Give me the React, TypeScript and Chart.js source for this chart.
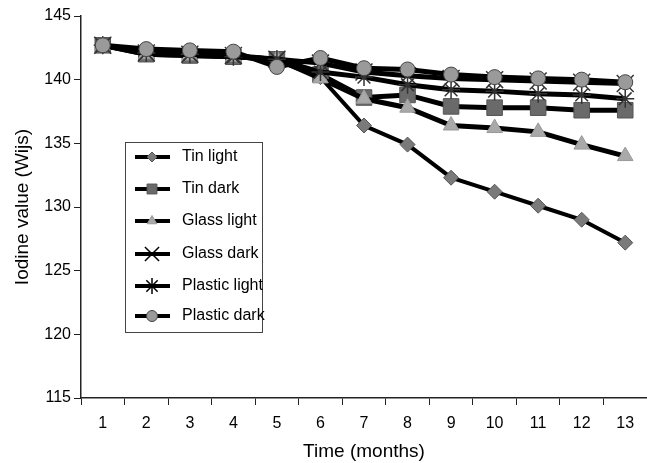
import React, { useEffect, useRef } from "react";
import { Chart, registerables } from "chart.js";
import { drawPoint } from "chart.js/helpers";

Chart.register(...registerables);

const months = ["1", "2", "3", "4", "5", "6", "7", "8", "9", "10", "11", "12", "13"];
const tinLight = [142.7, 142.2, 142.0, 141.8, 141.5, 140.2, 136.4, 134.9, 132.3, 131.2, 130.1, 129.0, 127.2];
const tinDark = [142.7, 142.0, 141.9, 141.8, 141.6, 140.4, 138.6, 138.8, 137.9, 137.8, 137.8, 137.6, 137.6];
const glassLight = [142.7, 142.0, 141.9, 141.8, 141.6, 140.1, 138.5, 137.8, 136.4, 136.2, 135.9, 134.9, 134.0];
const glassDark = [142.7, 142.1, 142.0, 141.9, 141.6, 141.3, 140.6, 140.3, 140.1, 140.0, 139.9, 139.8, 139.7];
const plasticLight = [142.7, 142.1, 142.0, 141.8, 141.6, 140.6, 140.2, 139.6, 139.2, 139.1, 138.9, 138.8, 138.5];
const plasticDark = [142.7, 142.4, 142.3, 142.2, 141.0, 141.7, 140.9, 140.8, 140.4, 140.2, 140.1, 140.0, 139.8];
const seriesNames = ["Tin light", "Tin dark", "Glass light", "Glass dark", "Plastic light", "Plastic dark"];
const yTicks = [115, 120, 125, 130, 135, 140, 145];

const FONT = 'Arial, "Liberation Sans", sans-serif';

const styles = [
  { pointStyle: "rectRot", radius: 7.5, fill: "#7a7a7a", border: "#555", legendRadius: 5 },
  { pointStyle: "rect", radius: 11, fill: "#6a6a6a", border: "#555", legendRadius: 7 },
  { pointStyle: "triangle", radius: 9, fill: "#a9a9a9", border: "#999", legendRadius: 5.5 },
  { pointStyle: "crossRot", radius: 12, fill: "#333", border: "#333", legendRadius: 10 },
  { pointStyle: "star", radius: 9, fill: "#333", border: "#333", legendRadius: 8 },
  { pointStyle: "circle", radius: 7.5, fill: "#9a9a9a", border: "#444", legendRadius: 5.5 },
];

const legendPlugin = {
  id: "boxLegend",
  afterDraw(chart: any) {
    const ctx = chart.ctx;
    ctx.save();
    const bx = 125, by = 142, bw = 137, bh = 190;
    ctx.fillStyle = "#fff";
    ctx.fillRect(bx, by, bw, bh);
    ctx.strokeStyle = "#444";
    ctx.lineWidth = 1;
    ctx.strokeRect(bx + 0.5, by + 0.5, bw, bh);
    const ys = [157, 189, 221, 254, 286, 316];
    seriesNames.forEach((name, i) => {
      const y = ys[i];
      const s = styles[i];
      ctx.strokeStyle = "#000";
      ctx.lineWidth = 4;
      ctx.beginPath();
      ctx.moveTo(135, y);
      ctx.lineTo(170, y);
      ctx.stroke();
      ctx.fillStyle = s.fill;
      ctx.strokeStyle = i === 3 || i === 4 ? "#000" : s.border;
      ctx.lineWidth = i === 3 || i === 4 ? 1.5 : 1;
      drawPoint(ctx, { pointStyle: s.pointStyle, radius: s.legendRadius, rotation: 0, borderWidth: 1 }, 152, y);
      ctx.fillStyle = "#000";
      ctx.font = "16px " + FONT;
      ctx.textBaseline = "middle";
      ctx.textAlign = "left";
      ctx.fillText(name, 182, y);
    });
    ctx.restore();
  },
};

export default function App() {
  const ref = useRef<HTMLCanvasElement | null>(null);
  useEffect(() => {
    if (!ref.current) return;
    const data = [tinLight, tinDark, glassLight, glassDark, plasticLight, plasticDark];
    const chart = new Chart(ref.current, {
      type: "line",
      data: {
        labels: months,
        datasets: data.map((d, i) => ({
          label: seriesNames[i],
          data: d,
          borderColor: "#000",
          borderWidth: i === 0 ? 4 : 5,
          backgroundColor: styles[i].fill,
          pointStyle: styles[i].pointStyle as any,
          pointRadius: styles[i].radius,
          pointBackgroundColor: styles[i].fill,
          pointBorderColor: styles[i].border,
          pointBorderWidth: i === 3 || i === 4 ? 1.5 : 1,
          tension: 0,
          fill: false,
          clip: false as any,
          order: 5 - i,
        })),
      },
      options: {
        animation: false,
        responsive: false,
        devicePixelRatio: 1,
        layout: { autoPadding: false, padding: { top: 16, right: 0, left: 0, bottom: 0 } },
        plugins: { legend: { display: false }, tooltip: { enabled: false } },
        scales: {
          x: {
            type: "category",
            offset: true,
            grid: { offset: true, drawOnChartArea: false, drawTicks: true, tickLength: 7, color: "#222" },
            border: { color: "#222", width: 1.5 },
            ticks: { font: { size: 16, family: FONT }, color: "#000", padding: 9, maxRotation: 0 },
            title: { display: true, text: "Time (months)", font: { size: 19, family: FONT }, color: "#000", padding: { top: 0, bottom: 0 } },
            afterFit: (s: any) => { s.height = 65; s.paddingRight = 0; s.paddingLeft = 0; },
          },
          y: {
            min: 115,
            max: 145,
            afterBuildTicks: (s: any) => { s.ticks = yTicks.map((v) => ({ value: v })); },
            grid: { drawOnChartArea: false, drawTicks: true, tickLength: 7, color: "#222" },
            border: { color: "#222", width: 1.5 },
            ticks: { font: { size: 16, family: FONT }, color: "#000", padding: 3 },
            title: { display: true, text: "Iodine value (Wijs)", font: { size: 19, family: FONT }, color: "#000", padding: { top: 11, bottom: 0 } },
            afterFit: (s: any) => { s.width = 81; },
          },
        },
      },
      plugins: [legendPlugin],
    });
    return () => chart.destroy();
  }, []);
  return (
    <div style={{ position: "absolute", left: 0, top: 0, width: 647, height: 463, background: "#fff" }}>
      <canvas ref={ref} width={647} height={463} />
    </div>
  );
}
